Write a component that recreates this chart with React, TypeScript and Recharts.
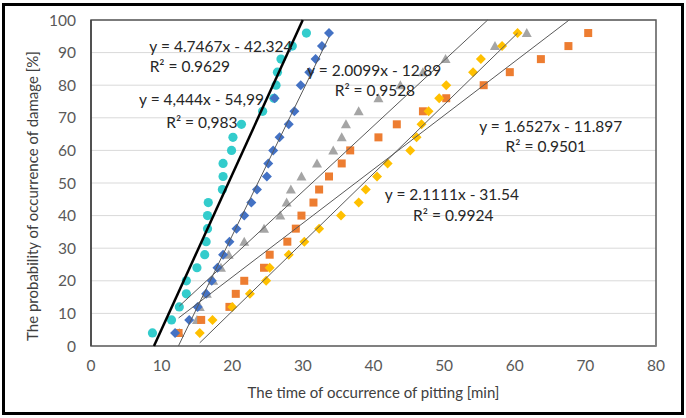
import {
  ScatterChart,
  Scatter,
  XAxis,
  YAxis,
  CartesianGrid,
  ReferenceArea,
  ReferenceDot,
} from "recharts";

// probability of occurrence of damage [%], shared by all series
const probability = [
  4, 8, 12, 16, 20, 24, 28, 32, 36, 40, 44, 48,
  52, 56, 60, 64, 68, 72, 76, 80, 84, 88, 92, 96,
];

// time of occurrence of pitting [min] for each series
const cyanTimes = [
  8.7, 11.4, 12.5, 13.5, 13.5, 15.0, 16.1, 16.3, 16.5, 16.5, 16.6, 18.6,
  18.7, 18.7, 19.9, 20.1, 21.3, 24.3, 25.9, 26.2, 26.4, 26.9, 28.5, 30.5,
];
const blueTimes = [
  11.9, 13.9, 15.1, 16.3, 17.1, 17.9, 18.7, 19.6, 20.6, 21.7, 22.7, 23.5,
  24.9, 25.1, 25.8, 26.7, 28.0, 28.8, 26.0, 29.7, 30.9, 31.8, 32.7, 33.7,
];
const grayTimes = [
  12.5, 15.0, 15.4, 16.4, 17.3, 18.4, 19.5, 21.7, 24.5, 26.8, 27.7, 28.3,
  29.8, 32.0, 34.3, 35.5, 36.1, 37.9, 40.7, 43.8, 47.0, 50.2, 57.2, 61.7,
];
const orangeTimes = [
  12.4, 15.6, 19.6, 20.5, 21.7, 24.5, 25.3, 27.8, 29.0, 29.8, 31.5, 32.3,
  33.7, 35.5, 36.7, 40.7, 43.3, 47.0, 50.3, 55.6, 59.3, 63.7, 67.6, 70.4,
];
const yellowTimes = [
  15.4, 17.2, 20.0, 22.5, 24.8, 25.3, 28.0, 30.2, 32.3, 35.4, 37.9, 38.9,
  40.5, 42.0, 45.2, 46.1, 46.8, 47.8, 49.3, 50.3, 54.1, 55.2, 58.2, 60.4,
];

// linear trendlines (slope, intercept) as printed on the chart
const cyanTrend = [4.7467, -42.324];
const blueTrend = [4.444, -54.99];
const grayTrend = [2.0099, -12.89];
const orangeTrend = [1.6527, -11.897];
const yellowTrend = [2.1111, -31.54];

const xTicks = [0, 10, 20, 30, 40, 50, 60, 70, 80];
const yTicks = [0, 10, 20, 30, 40, 50, 60, 70, 80, 90, 100];

const FONT = "Lato, 'Open Sans', sans-serif";

const toPoints = (times: number[]) =>
  times.map((t, i) => ({ x: t, y: probability[i] }));

// trendline spans the data range, clipped to the 0..100 axis
const trendPoints = (trend: number[], times: number[]) => {
  const [a, b] = trend;
  const x1 = Math.max(Math.min(...times), (0 - b) / a);
  const x2 = Math.min(Math.max(...times), (100 - b) / a);
  return [
    { x: x1, y: a * x1 + b },
    { x: x2, y: a * x2 + b },
  ];
};

const Circle = (color: string) => (p: any) =>
  <circle cx={p.cx} cy={p.cy} r={4.6} fill={color} />;

const Diamond = (color: string) => (p: any) => {
  const s = 5;
  return (
    <path
      d={`M${p.cx},${p.cy - s}L${p.cx + s},${p.cy}L${p.cx},${p.cy + s}L${p.cx - s},${p.cy}Z`}
      fill={color}
    />
  );
};

const Square = (color: string) => (p: any) =>
  <rect x={p.cx - 4} y={p.cy - 4} width={8} height={8} fill={color} />;

const Triangle = (color: string) => (p: any) => {
  const s = 5;
  return (
    <path
      d={`M${p.cx},${p.cy - s}L${p.cx + s},${p.cy + s * 0.8}L${p.cx - s},${p.cy + s * 0.8}Z`}
      fill={color}
    />
  );
};

const NoDot = () => null;

const labels = [
  { x: 18.4, y: 91.9, text: "y = 4.7467x - 42.324" },
  { x: 14.0, y: 85.8, text: "R² = 0.9629" },
  { x: 15.65, y: 75.6, text: "y = 4,444x - 54,99" },
  { x: 15.7, y: 68.5, text: "R² = 0,983" },
  { x: 40.1, y: 84.5, text: "y = 2.0099x - 12.89" },
  { x: 40.2, y: 78.5, text: "R² = 0.9528" },
  { x: 65.1, y: 67.3, text: "y = 1.6527x - 11.897" },
  { x: 64.4, y: 61.2, text: "R² = 0.9501" },
  { x: 51.1, y: 46.4, text: "y = 2.1111x - 31.54" },
  { x: 51.3, y: 39.9, text: "R² = 0.9924" },
];

export default function App() {
  return (
    <div
      style={{
        position: "absolute",
        left: 0,
        top: 0,
        width: 686,
        height: 418,
        background: "#fff",
        fontFamily: FONT,
      }}
    >
      <div
        style={{
          position: "absolute",
          left: 2,
          top: 3,
          width: 682,
          height: 412,
          border: "3px solid #000",
          boxSizing: "border-box",
        }}
      />
      <ScatterChart
        width={686}
        height={418}
        margin={{ top: 20, right: 30, bottom: 42, left: 0 }}
        style={{ position: "absolute", left: 0, top: 0 }}
      >
        <CartesianGrid vertical={false} stroke="#d9d9d9" strokeWidth={1} />
        <XAxis
          type="number"
          dataKey="x"
          domain={[0, 80]}
          ticks={xTicks}
          height={30}
          tickLine={false}
          tickSize={0}
          tickMargin={14}
          axisLine={{ stroke: "#808080", strokeWidth: 2 }}
          tick={{ fontSize: 15.5, fill: "#595959", fontFamily: FONT }}
          label={{
            value: "The time of occurrence of pitting [min]",
            position: "insideBottom",
            offset: -22,
            fontSize: 15,
            fill: "#404040",
            fontFamily: FONT,
          }}
        />
        <YAxis
          type="number"
          dataKey="y"
          domain={[0, 100]}
          ticks={yTicks}
          width={91}
          tickLine={false}
          tickSize={0}
          tickMargin={15}
          axisLine={{ stroke: "#404040", strokeWidth: 1.5 }}
          tick={{ fontSize: 15.5, fill: "#595959", fontFamily: FONT }}
          label={{
            value: "The probability of occurrence of damage [%]",
            angle: -90,
            position: "center",
            dx: -13,
            dy: 13,
            fontSize: 15,
            fill: "#404040",
            fontFamily: FONT,
          }}
        />
        <ReferenceArea
          x1={0}
          x2={80}
          y1={0}
          y2={100}
          fill="none"
          stroke="#595959"
          strokeWidth={1.5}
        />
        <Scatter data={toPoints(cyanTimes)} shape={Circle("#33CCCC")} isAnimationActive={false} />
        <Scatter data={toPoints(grayTimes)} shape={Triangle("#A5A5A5")} isAnimationActive={false} />
        <Scatter data={toPoints(orangeTimes)} shape={Square("#ED7D31")} isAnimationActive={false} />
        <Scatter data={toPoints(blueTimes)} shape={Diamond("#4472C4")} isAnimationActive={false} />
        <Scatter data={toPoints(yellowTimes)} shape={Diamond("#FFC000")} isAnimationActive={false} />

        <Scatter
          data={trendPoints(cyanTrend, cyanTimes)}
          line={{ stroke: "#000", strokeWidth: 2.5 }}
          shape={NoDot}
          isAnimationActive={false}
        />
        <Scatter
          data={trendPoints(blueTrend, blueTimes)}
          line={{ stroke: "#595959", strokeWidth: 1 }}
          shape={NoDot}
          isAnimationActive={false}
        />
        <Scatter
          data={trendPoints(grayTrend, grayTimes)}
          line={{ stroke: "#595959", strokeWidth: 1 }}
          shape={NoDot}
          isAnimationActive={false}
        />
        <Scatter
          data={trendPoints(orangeTrend, orangeTimes)}
          line={{ stroke: "#595959", strokeWidth: 1 }}
          shape={NoDot}
          isAnimationActive={false}
        />
        <Scatter
          data={trendPoints(yellowTrend, yellowTimes)}
          line={{ stroke: "#595959", strokeWidth: 1 }}
          shape={NoDot}
          isAnimationActive={false}
        />

        {labels.map((l) => (
          <ReferenceDot
            key={l.text}
            x={l.x}
            y={l.y}
            r={0}
            fill="none"
            stroke="none"
            label={{
              value: l.text,
              position: "center",
              fontSize: 15.5,
              fill: "#262626",
              fontFamily: FONT,
            }}
          />
        ))}
      </ScatterChart>
    </div>
  );
}
